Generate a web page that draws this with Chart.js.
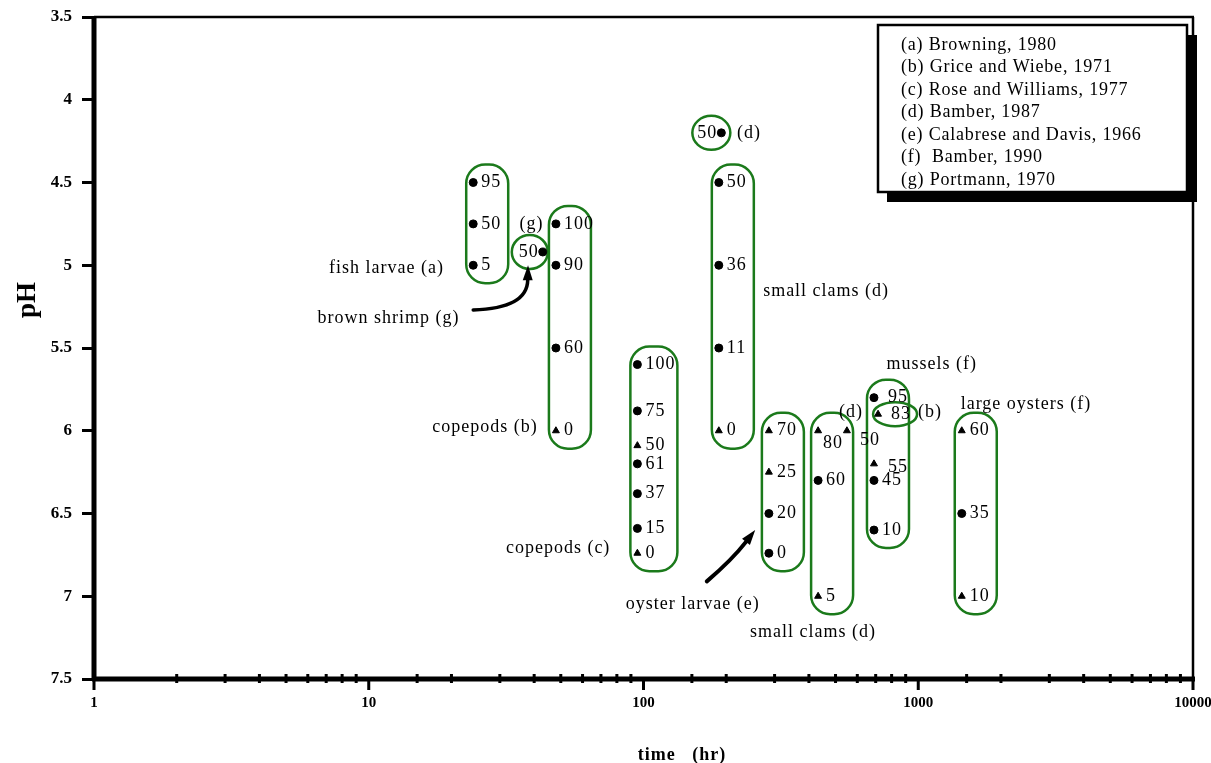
<!DOCTYPE html>
<html>
<head>
<meta charset="utf-8">
<script src="https://cdn.jsdelivr.net/npm/chart.js@4.4.0/dist/chart.umd.min.js"></script>
<style>
    html, body { margin: 0; padding: 0; background: #fff; }
    #wrap { width: 1211px; height: 763px; position: relative; }
</style>
</head>
<body>
<div id="wrap"><canvas id="phChart"></canvas></div>
<script>
// x = exposure time (hr), y = pH, point labels = % survival
const xTickLabels = [1, 10, 100, 1000, 10000];
const pHTicks = [3.5, 4, 4.5, 5, 5.5, 6, 6.5, 7, 7.5];

// fish larvae (a)
const fishHours = 24;
const fishPH = [4.5, 4.75, 5.0];
const fishSurvival = ['95', '50', '5'];

// brown shrimp (g)
const shrimpHours = 43;
const shrimpPH = [4.92];
const shrimpSurvival = ['50'];

// copepods (b)
const copeBHours = 48;
const copeBPH = [4.75, 5.0, 5.5, 6.0];
const copeBSurvival = ['100', '90', '60', '0'];

// copepods (c)
const copeCHours = 95;
const copeCPH = [5.6, 5.88, 6.09, 6.2, 6.38, 6.59, 6.74];
const copeCSurvival = ['100', '75', '50', '61', '37', '15', '0'];

// small clams (d)
const clamTopHours = 192;
const clamTopPH = [4.2];
const clamTopSurvival = ['50'];

const clamAHours = 188;
const clamAPH = [4.5, 5.0, 5.5, 6.0];
const clamASurvival = ['50', '36', '11', '0'];

// oyster larvae (e)
const oysterLHours = 286;
const oysterLPH = [6.0, 6.25, 6.5, 6.74];
const oysterLSurvival = ['70', '25', '20', '0'];

// small clams (d), second set
const clamBHours = 432;
const clamBPH = [6.0, 6.3, 7.0];
const clamBSurvival = ['80', '60', '5'];

const clamCHours = 550;
const clamCPH = [6.0];
const clamCSurvival = ['50'];

// mussels (f) and (b)
const musselHours = 690;
const musselPH = [5.8, 6.2, 6.3, 6.6];
const musselSurvival = ['95', '55', '45', '10'];

const musselBHours = 714;
const musselBPH = [5.9];
const musselBSurvival = ['83'];

// large oysters (f)
const bigOysterHours = 1440;
const bigOysterPH = [6.0, 6.5, 7.0];
const bigOysterSurvival = ['60', '35', '10'];

const sources = [
    '(a) Browning, 1980',
    '(b) Grice and Wiebe, 1971',
    '(c) Rose and Williams, 1977',
    '(d) Bamber, 1987',
    '(e) Calabrese and Davis, 1966',
    '(f)  Bamber, 1990',
    '(g) Portmann, 1970'
];

// text notes: [text, hours, pH]
const notes = [
    ['fish larvae (a)', 11.6, 5.02],
    ['brown shrimp (g)', 11.8, 5.32],
    ['(g)', 39.1, 4.75],
    ['copepods (b)', 26.5, 5.98],
    ['copepods (c)', 48.9, 6.71],
    ['oyster larvae (e)', 151, 7.05],
    ['small clams (d)', 462, 5.16],
    ['(d)', 242, 4.2],
    ['small clams (d)', 414, 7.22],
    ['mussels (f)', 1119, 5.6],
    ['(d)', 569, 5.89],
    ['(b)', 1103, 5.89],
    ['large oysters (f)', 2467, 5.84]
];

// arrows: [start, control, tip] as [hours, pH]
const shrimpArrow = [[24, 5.27], [37.7, 5.26], [38, 5.0]];
const oysterArrow = [[170, 6.91], [210, 6.78], [255, 6.6]];

const FONT = '"Liberation Serif", "Times New Roman", serif';
const GREEN = '#1b7a1b';

// how each group is drawn
const groups = [
    { hours: fishHours, ph: fishPH, surv: fishSurvival, outline: 'box', tri: [] },
    { hours: shrimpHours, ph: shrimpPH, surv: shrimpSurvival, outline: 'ring', ring: [-13, 18, 17], side: 'left', tri: [] },
    { hours: copeBHours, ph: copeBPH, surv: copeBSurvival, outline: 'box', tri: [3] },
    { hours: copeCHours, ph: copeCPH, surv: copeCSurvival, outline: 'box', wide: 5, tri: [2, 6] },
    { hours: clamTopHours, ph: clamTopPH, surv: clamTopSurvival, outline: 'ring', ring: [-10, 19, 17], side: 'left', tri: [] },
    { hours: clamAHours, ph: clamAPH, surv: clamASurvival, outline: 'box', tri: [3] },
    { hours: oysterLHours, ph: oysterLPH, surv: oysterLSurvival, outline: 'box', tri: [0, 1] },
    { hours: clamBHours, ph: clamBPH, surv: clamBSurvival, outline: 'box', nudge: { 0: [5, 13] }, tri: [0, 2] },
    { hours: clamCHours, ph: clamCPH, surv: clamCSurvival, outline: null, nudge: { 0: [13, 10] }, tri: [0] },
    { hours: musselHours, ph: musselPH, surv: musselSurvival, outline: 'box', nudge: { 0: [14, 0], 1: [14, 3] }, tri: [1] },
    { hours: musselBHours, ph: musselBPH, surv: musselBSurvival, outline: 'ring', ring: [17, 22, 12], nudge: { 0: [13, 0] }, tri: [0] },
    { hours: bigOysterHours, ph: bigOysterPH, surv: bigOysterSurvival, outline: 'box', tri: [0, 2] }
];

function drawArrow(ctx, chart, pts, width) {
    const xs = chart.scales.x, ys = chart.scales.y;
    const p = pts.map(q => [xs.getPixelForValue(q[0]), ys.getPixelForValue(q[1])]);
    const [s, c, t] = p;
    let dx = t[0] - c[0], dy = t[1] - c[1];
    const len = Math.hypot(dx, dy);
    dx /= len; dy /= len;
    const head = 15;
    const b = [t[0] - dx * head, t[1] - dy * head];
    ctx.beginPath();
    ctx.moveTo(s[0], s[1]);
    ctx.quadraticCurveTo(c[0], c[1], b[0], b[1]);
    ctx.lineWidth = width;
    ctx.stroke();
    ctx.beginPath();
    ctx.moveTo(t[0], t[1]);
    ctx.lineTo(b[0] - dy * 5, b[1] + dx * 5);
    ctx.lineTo(b[0] + dy * 5, b[1] - dx * 5);
    ctx.closePath();
    ctx.fill();
}

const decor = {
    id: 'decor',
    beforeDatasetsDraw(chart) {
        const ctx = chart.ctx;
        const xs = chart.scales.x, ys = chart.scales.y;
        ctx.save();
        ctx.strokeStyle = GREEN;
        ctx.lineWidth = 2.5;
        groups.forEach(g => {
            if (!g.outline) return;
            const x = xs.getPixelForValue(g.hours);
            const yy = g.ph.map(p => ys.getPixelForValue(p));
            ctx.beginPath();
            if (g.outline === 'ring') {
                ctx.ellipse(x + g.ring[0], yy[0], g.ring[1], g.ring[2], 0, 0, Math.PI * 2);
            } else {
                const top = Math.min(...yy) - 18;
                const bot = Math.max(...yy) + 18;
                ctx.roundRect(x - 7, top, 42 + (g.wide || 0), bot - top, 19);
            }
            ctx.stroke();
        });
        ctx.restore();
    },
    afterDatasetsDraw(chart) {
        const ctx = chart.ctx;
        const a = chart.chartArea;
        const xs = chart.scales.x, ys = chart.scales.y;
        ctx.save();

        // frame
        ctx.strokeStyle = '#000';
        ctx.lineWidth = 2.5;
        ctx.beginPath();
        ctx.moveTo(a.left, a.top);
        ctx.lineTo(a.right + 1, a.top);
        ctx.moveTo(a.right, a.top);
        ctx.lineTo(a.right, a.bottom);
        ctx.stroke();
        ctx.lineWidth = 5;
        ctx.beginPath();
        ctx.moveTo(a.left, a.top - 1);
        ctx.lineTo(a.left, a.bottom + 2);
        ctx.moveTo(a.left - 2, a.bottom);
        ctx.lineTo(a.right + 2, a.bottom);
        ctx.stroke();

        // x ticks, long ones at the decades
        ctx.lineWidth = 3;
        ctx.beginPath();
        xs.ticks.forEach(t => {
            const x = xs.getPixelForValue(t.value);
            if (xTickLabels.includes(t.value)) {
                ctx.moveTo(x, a.bottom);
                ctx.lineTo(x, a.bottom + 11);
            } else {
                ctx.moveTo(x, a.bottom - 5);
                ctx.lineTo(x, a.bottom + 4);
            }
        });
        ctx.stroke();

        // survival labels
        ctx.fillStyle = '#000';
        ctx.font = '18px ' + FONT;
        ctx.letterSpacing = '1px';
        ctx.textBaseline = 'middle';
        groups.forEach(g => {
            const x = xs.getPixelForValue(g.hours);
            g.ph.forEach((p, i) => {
                const y = ys.getPixelForValue(p);
                if (g.side === 'left') {
                    ctx.textAlign = 'right';
                    ctx.fillText(g.surv[i], x - 4, y);
                } else {
                    const n = (g.nudge && g.nudge[i]) || [8, 0];
                    ctx.textAlign = 'left';
                    ctx.fillText(g.surv[i], x + n[0], y + n[1]);
                }
            });
        });

        // group notes
        ctx.font = '18px ' + FONT;
        ctx.textAlign = 'center';
        notes.forEach(n => {
            ctx.fillText(n[0], xs.getPixelForValue(n[1]), ys.getPixelForValue(n[2]));
        });
        ctx.letterSpacing = '0px';

        // arrows
        ctx.strokeStyle = '#000';
        ctx.fillStyle = '#000';
        ctx.lineCap = 'round';
        drawArrow(ctx, chart, shrimpArrow, 3.5);
        drawArrow(ctx, chart, oysterArrow, 4);

        // sources box with drop shadow
        const bx = a.right - 315, by = a.top + 8, bw = 309, bh = 167;
        ctx.fillStyle = '#000';
        ctx.fillRect(bx + 9, by + 10, bw + 1, bh);
        ctx.fillStyle = '#fff';
        ctx.fillRect(bx, by, bw, bh);
        ctx.lineWidth = 2.5;
        ctx.strokeRect(bx, by, bw, bh);
        ctx.fillStyle = '#000';
        ctx.font = '18px ' + FONT;
        ctx.letterSpacing = '0.8px';
        ctx.textAlign = 'left';
        sources.forEach((s, i) => ctx.fillText(s, bx + 23, by + 20 + i * 22.5));

        // axis titles
        ctx.font = 'bold 18px ' + FONT;
        ctx.letterSpacing = '1px';
        ctx.textAlign = 'center';
        ctx.fillText('time   (hr)', 682, 755);
        ctx.letterSpacing = '0px';
        ctx.translate(28, 300);
        ctx.rotate(-Math.PI / 2);
        ctx.font = 'bold 27px ' + FONT;
        ctx.fillText('pH', 0, 0);

        ctx.restore();
    }
};

const datasets = groups.map(g => ({
    data: g.ph.map(p => ({ x: g.hours, y: p })),
    backgroundColor: '#000',
    borderColor: '#000',
    pointRadius: 4,
    pointStyle: c => g.tri.includes(c.dataIndex) ? 'triangle' : 'circle',
    showLine: false
}));

new Chart(document.getElementById('phChart'), {
    type: 'scatter',
    data: { datasets: datasets },
    options: {
        responsive: true,
        maintainAspectRatio: false,
        animation: false,
        layout: { padding: { top: 17, right: 18, left: 0, bottom: 0 }, autoPadding: false },
        plugins: { legend: { display: false }, tooltip: { enabled: false } },
        scales: {
            x: {
                type: 'logarithmic',
                min: 1,
                max: 10000,
                grid: { display: false },
                border: { display: false },
                ticks: {
                    autoSkip: false,
                    maxRotation: 0,
                    padding: 7,
                    color: '#000',
                    font: { family: FONT, size: 15, weight: 'bold' },
                    callback: v => xTickLabels.includes(v) ? String(v) : ''
                },
                afterFit: s => { s.height = 84; s.paddingLeft = 0; s.paddingRight = 0; }
            },
            y: {
                reverse: true,
                min: 3.5,
                max: 7.5,
                grid: { drawOnChartArea: false, tickLength: 12, tickWidth: 3, tickColor: '#000' },
                border: { display: false },
                afterBuildTicks: s => { s.ticks = pHTicks.map(v => ({ value: v })); },
                ticks: {
                    padding: 10,
                    color: '#000',
                    font: { family: FONT, size: 17, weight: 'bold' },
                    callback: v => String(v)
                },
                afterFit: s => { s.width = 94; s.paddingTop = 0; s.paddingBottom = 0; }
            }
        }
    },
    plugins: [decor]
});
</script>
</body>
</html>
